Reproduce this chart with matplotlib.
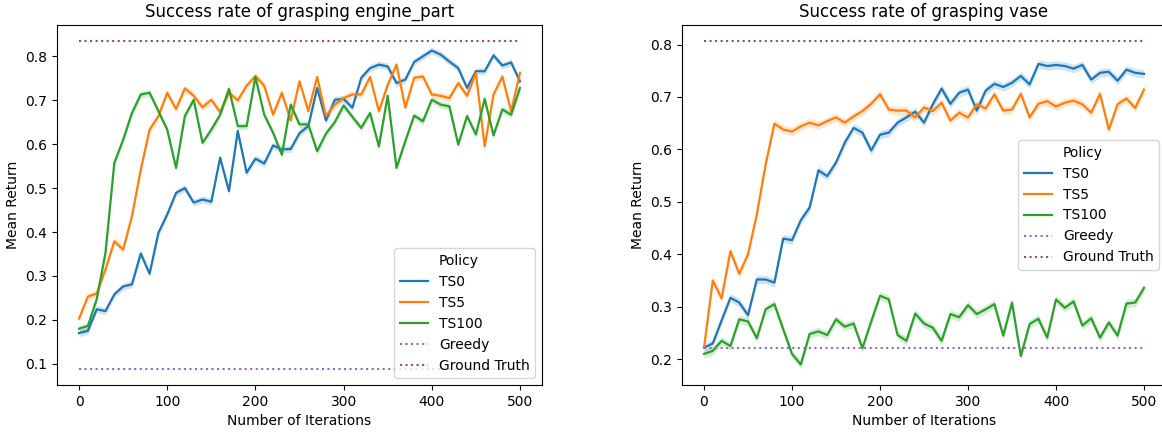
import numpy as np
import matplotlib
matplotlib.use("Agg")
import matplotlib.pyplot as plt
from matplotlib.lines import Line2D

iterations = np.arange(0, 501, 10)

# engine_part
ts0_engine = [0.17, 0.175, 0.224, 0.22, 0.258, 0.276, 0.281, 0.351, 0.305, 0.398, 0.44, 0.489, 0.5,
              0.467, 0.474, 0.469, 0.569, 0.493, 0.63, 0.535, 0.567, 0.556, 0.597, 0.588, 0.589, 0.625,
              0.641, 0.728, 0.654, 0.701, 0.703, 0.683, 0.751, 0.773, 0.781, 0.777, 0.739, 0.747, 0.787,
              0.8, 0.813, 0.804, 0.788, 0.773, 0.728, 0.766, 0.766, 0.802, 0.779, 0.786, 0.743]
ts5_engine = [0.203, 0.253, 0.26, 0.315, 0.379, 0.36, 0.436, 0.542, 0.633, 0.664, 0.717, 0.68, 0.727,
              0.71, 0.684, 0.701, 0.673, 0.717, 0.7, 0.733, 0.755, 0.733, 0.667, 0.717, 0.654, 0.743,
              0.675, 0.753, 0.664, 0.69, 0.705, 0.713, 0.713, 0.753, 0.675, 0.735, 0.781, 0.683, 0.751,
              0.754, 0.713, 0.71, 0.705, 0.739, 0.71, 0.762, 0.595, 0.713, 0.754, 0.675, 0.762]
ts100_engine = [0.18, 0.186, 0.247, 0.353, 0.557, 0.61, 0.671, 0.713, 0.717, 0.675, 0.633, 0.546, 0.664,
                0.701, 0.603, 0.633, 0.667, 0.726, 0.641, 0.641, 0.753, 0.667, 0.626, 0.576, 0.69, 0.645,
                0.645, 0.584, 0.624, 0.65, 0.688, 0.662, 0.637, 0.671, 0.595, 0.71, 0.546, 0.607, 0.665,
                0.652, 0.701, 0.69, 0.686, 0.599, 0.664, 0.622, 0.703, 0.62, 0.679, 0.667, 0.728]
greedy_engine = 0.089
truth_engine = 0.834

# vase
ts0_vase = [0.222, 0.23, 0.274, 0.317, 0.308, 0.284, 0.352, 0.352, 0.346, 0.43, 0.427, 0.465, 0.489, 0.56,
            0.549, 0.575, 0.613, 0.641, 0.632, 0.598, 0.628, 0.632, 0.651, 0.661, 0.672, 0.651,
            0.686, 0.716, 0.687, 0.708, 0.714, 0.674, 0.712, 0.725, 0.719, 0.727, 0.74, 0.724, 0.763,
            0.759, 0.761, 0.759, 0.754, 0.761, 0.733, 0.746, 0.748, 0.731, 0.752, 0.746, 0.744]
ts5_vase = [0.222, 0.35, 0.316, 0.406, 0.363, 0.4, 0.476, 0.571, 0.649, 0.638, 0.634, 0.644, 0.651, 0.646,
            0.654, 0.661, 0.651, 0.663, 0.673, 0.687, 0.705, 0.676, 0.674, 0.674, 0.661, 0.68,
            0.673, 0.689, 0.655, 0.67, 0.661, 0.686, 0.678, 0.705, 0.674, 0.676, 0.706, 0.661, 0.687,
            0.692, 0.682, 0.689, 0.693, 0.686, 0.67, 0.706, 0.638, 0.686, 0.697, 0.679, 0.714]
ts100_vase = [0.21, 0.216, 0.235, 0.225, 0.276, 0.272, 0.24, 0.295, 0.305, 0.257, 0.21, 0.19, 0.248, 0.253,
              0.246, 0.276, 0.262, 0.268, 0.221, 0.272, 0.321, 0.314, 0.246, 0.235, 0.287, 0.268,
              0.26, 0.235, 0.286, 0.28, 0.303, 0.286, 0.295, 0.305, 0.245, 0.308, 0.206, 0.267, 0.277,
              0.241, 0.314, 0.298, 0.31, 0.264, 0.278, 0.241, 0.27, 0.245, 0.306, 0.308, 0.336]
greedy_vase = 0.222
truth_vase = 0.806

policies = ["TS0", "TS5", "TS100"]
colors = ["tab:blue", "tab:orange", "tab:green"]
band = 0.008  # half width of the shaded confidence band

fig = plt.figure(figsize=(11.62, 4.33), dpi=100)
ax1 = fig.add_axes([57 / 1162, 48 / 433, 485 / 1162, 360 / 433])
# right panel runs a few pixels past the image edge, like the original
ax2 = fig.add_axes([682 / 1162, 48 / 433, 484 / 1162, 360 / 433])


def draw(ax, series, greedy, truth, title, legend_loc):
    for name, vals, c in zip(policies, series, colors):
        vals = np.array(vals)
        ax.fill_between(iterations, vals - band, vals + band, color=c, alpha=0.2, linewidth=0)
        ax.plot(iterations, vals, color=c, linewidth=1.6, label=name)
    ax.plot([iterations[0], iterations[-1]], [greedy, greedy], ':', color="tab:purple", label="Greedy")
    ax.plot([iterations[0], iterations[-1]], [truth, truth], ':', color="tab:brown", label="Ground Truth")
    ax.set_title(title, fontsize=12)
    ax.set_xlabel("Number of Iterations")
    ax.set_ylabel("Mean Return")
    handles, labels = ax.get_legend_handles_labels()
    blank = Line2D([], [], color="none")
    ax.legend([blank] + handles, ["Policy"] + labels, loc=legend_loc)


draw(ax1, [ts0_engine, ts5_engine, ts100_engine], greedy_engine, truth_engine,
     "Success rate of grasping engine_part", "lower right")
draw(ax2, [ts0_vase, ts5_vase, ts100_vase], greedy_vase, truth_vase,
     "Success rate of grasping vase", "center right")

fig.savefig("out.png", dpi=100)
